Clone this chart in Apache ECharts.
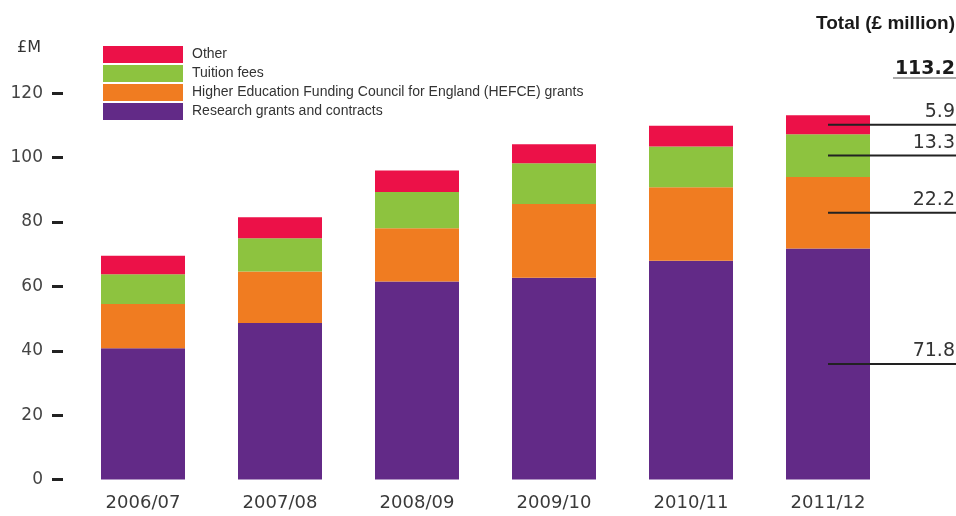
<!DOCTYPE html>
<html>
<head>
<meta charset="utf-8">
<script src="https://cdn.jsdelivr.net/npm/echarts@6/dist/echarts.min.js"></script>
<style>
html,body{margin:0;padding:0;background:#fff;}
#chart{width:956px;height:516px;}
</style>
</head>
<body>
<div id="chart"></div>
<script>
const categories = ['2006/07', '2007/08', '2008/09', '2009/10', '2010/11', '2011/12'];
const research = [40.8, 48.6, 61.5, 62.7, 68.0, 71.8];
const hefce = [13.7, 16.0, 16.6, 22.9, 22.8, 22.2];
const tuition = [9.3, 10.4, 11.2, 12.7, 12.7, 13.3];
const other = [5.7, 6.5, 6.7, 5.9, 6.4, 5.9];
const seriesNames = ['Research grants and contracts', 'Higher Education Funding Council for England (HEFCE) grants', 'Tuition fees', 'Other'];
const legendOrder = ['Other', 'Tuition fees', 'Higher Education Funding Council for England (HEFCE) grants', 'Research grants and contracts'];
const colors = ['#622a87', '#f07c21', '#8dc33f', '#ec1148'];

const chart = echarts.init(document.getElementById('chart'), null, {renderer: 'canvas'});
const dataSets = [research, hefce, tuition, other];

chart.setOption({
  animation: false,
  backgroundColor: '#fff',
  grid: {left: 74.5, right: 59.5, top: 93.3, bottom: 36.5},
  legend: {
    orient: 'vertical',
    left: 98, top: 41,
    itemWidth: 80, itemHeight: 17, itemGap: 2,
    icon: 'rect',
    data: legendOrder,
    textStyle: {fontFamily: 'Liberation Sans', fontSize: 14, color: '#333', padding: [2, 0, 0, 4]}
  },
  xAxis: {
    type: 'category',
    data: categories,
    axisLine: {show: false},
    axisTick: {show: false},
    axisLabel: {fontFamily: 'DejaVu Sans', fontSize: 18, color: '#3a3a3a', margin: 15}
  },
  yAxis: {
    type: 'value',
    min: 0, max: 120, interval: 20,
    offset: 11.5,
    splitLine: {show: false},
    axisLine: {show: false},
    axisTick: {show: true, length: 11, lineStyle: {color: '#222', width: 3}},
    axisLabel: {fontFamily: 'DejaVu Sans', fontSize: 17, color: '#444', margin: 20}
  },
  series: dataSets.map((d, i) => ({
    name: seriesNames[i],
    type: 'bar',
    stack: 'total',
    barWidth: 84,
    itemStyle: {color: colors[i]},
    data: d
  }))
});

function buildAnnotations() {
  const last = categories.length - 1;
  const lastVals = dataSets.map(d => d[last]);
  const total = lastVals.reduce((a, b) => a + b, 0);
  const elements = [];
  let cum = 0;
  const rightX = 955;
  lastVals.forEach((v, i) => {
    const mid = cum + v / 2;
    cum += v;
    const p = chart.convertToPixel({xAxisIndex: 0, yAxisIndex: 0}, [categories[last], mid]);
    elements.push({
      type: 'line',
      z: 100,
      shape: {x1: p[0], y1: p[1], x2: 956, y2: p[1]},
      style: {stroke: '#222', lineWidth: 2}
    });
    elements.push({
      type: 'text',
      z: 100,
      style: {
        x: rightX, y: p[1] - 3,
        text: v.toFixed(1),
        textAlign: 'right', textVerticalAlign: 'bottom',
        font: '19px "DejaVu Sans"', fill: '#333'
      }
    });
  });
  elements.push({
    type: 'text',
    z: 100,
    style: {x: rightX, y: 24, text: 'Total (£ million)', textAlign: 'right', textVerticalAlign: 'middle',
      font: 'bold 19px "Liberation Sans"', fill: '#1a1a1a'}
  });
  elements.push({
    type: 'text',
    z: 100,
    style: {x: rightX, y: 69, text: total.toFixed(1), textAlign: 'right', textVerticalAlign: 'middle',
      font: 'bold 19px "DejaVu Sans"', fill: '#1a1a1a'}
  });
  elements.push({
    type: 'line',
    z: 100,
    shape: {x1: 893, y1: 78, x2: 956, y2: 78},
    style: {stroke: '#555', lineWidth: 1}
  });
  elements.push({
    type: 'text',
    z: 100,
    style: {x: 17, y: 48, text: '£M', textAlign: 'left', textVerticalAlign: 'middle',
      font: '16px "DejaVu Sans"', fill: '#333'}
  });
  chart.setOption({graphic: {elements: elements}});
}
buildAnnotations();
</script>
</body>
</html>
